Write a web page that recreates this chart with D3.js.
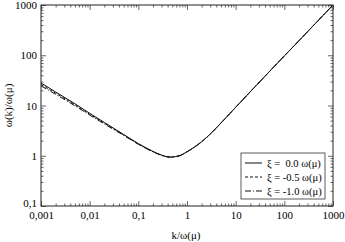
<!DOCTYPE html>
<html>
<head>
<meta charset="utf-8">
<script src="https://cdn.jsdelivr.net/npm/d3@7"></script>
<style>
  body { margin: 0; background: #fff; }
  svg text { font-family: "Liberation Serif", "DejaVu Serif", serif; fill: #000; }
</style>
</head>
<body>
<div id="chart"></div>
<script>
// values
const kValues = [0.001, 0.002, 0.005, 0.01, 0.02, 0.05, 0.1, 0.2, 0.3, 0.45, 0.7, 1, 2, 3, 5, 10, 20, 50, 100, 200, 500, 1000];
const omegaXi00 = [28, 18.6, 10.8, 7.0, 4.6, 2.65, 1.75, 1.22, 1.03, 0.94, 1.0, 1.2, 1.9, 2.7, 4.5, 9.2, 18.8, 48, 97, 195, 495, 1000];
const omegaXi05 = [26.2, 17.6, 10.3, 6.7, 4.45, 2.6, 1.72, 1.21, 1.02, 0.94, 1.0, 1.2, 1.9, 2.7, 4.5, 9.2, 18.8, 48, 97, 195, 495, 1000];
const omegaXi10 = [24.6, 16.7, 9.85, 6.45, 4.3, 2.54, 1.69, 1.2, 1.02, 0.94, 1.0, 1.2, 1.9, 2.7, 4.5, 9.2, 18.8, 48, 97, 195, 495, 1000];

const seriesNames = ["\u03be =  0.0 \u03c9(\u03bc)", "\u03be = -0.5 \u03c9(\u03bc)", "\u03be = -1.0 \u03c9(\u03bc)"];
const seriesDash = [null, "3,2", "6,2,1,2"];

const xTicks = [0.001, 0.01, 0.1, 1, 10, 100, 1000];
const xTickLabels = ["0,001", "0,01", "0,1", "1", "10", "100", "1000"];
const yTicks = [0.1, 1, 10, 100, 1000];
const yTickLabels = ["0,1", "1", "10", "100", "1000"];

const width = 345, height = 242;
const plotL = 41, plotR = 333, plotT = 5, plotB = 206;

const svg = d3.select("#chart").append("svg")
    .attr("width", width)
    .attr("height", height);

const x = d3.scaleLog().domain([0.001, 1000]).range([plotL, plotR]);
const y = d3.scaleLog().domain([0.1, 1000]).range([plotB, plotT]);

// minor ticks 2..9 within each decade
const minorOf = (dom) => {
    const out = [];
    for (let e = Math.round(Math.log10(dom[0])); e < Math.round(Math.log10(dom[1])); e++) {
        for (let m = 2; m <= 9; m++) out.push(m * Math.pow(10, e));
    }
    return out;
};
const xMinor = minorOf(x.domain());
const yMinor = minorOf(y.domain());

const tickColor = "#444";

function tickLayer(axis, tx, ty) {
    const g = svg.append("g").attr("transform", `translate(${tx},${ty})`).call(axis);
    g.select(".domain").remove();
    g.selectAll("line").attr("stroke", tickColor).attr("stroke-width", 0.8);
    return g;
}

// minor ticks, all four sides, pointing inward
tickLayer(d3.axisBottom(x).tickValues(xMinor).tickSize(-2.5).tickFormat(""), 0, plotB);
tickLayer(d3.axisTop(x).tickValues(xMinor).tickSize(-2.5).tickFormat(""), 0, plotT);
tickLayer(d3.axisLeft(y).tickValues(yMinor).tickSize(-2.5).tickFormat(""), plotL, 0);
tickLayer(d3.axisRight(y).tickValues(yMinor).tickSize(-2.5).tickFormat(""), plotR, 0);

// major ticks with labels
const xAxis = tickLayer(d3.axisBottom(x).tickValues(xTicks).tickSize(-5).tickPadding(3)
    .tickFormat((d, i) => xTickLabels[i]), 0, plotB);
xAxis.selectAll("text").attr("y", 5).attr("font-size", 11).attr("font-family", "Liberation Serif");

const yAxis = tickLayer(d3.axisLeft(y).tickValues(yTicks).tickSize(-5)
    .tickFormat((d, i) => yTickLabels[i]), plotL, 0);
yAxis.selectAll("text").attr("x", -4).attr("font-size", 11).attr("font-family", "Liberation Serif");
yAxis.selectAll(".tick").filter(d => d === 0.1).select("text").attr("dy", "0.05em");

tickLayer(d3.axisTop(x).tickValues(xTicks).tickSize(-5).tickFormat(""), 0, plotT);
tickLayer(d3.axisRight(y).tickValues(yTicks).tickSize(-5).tickFormat(""), plotR, 0);

// frame
svg.append("rect")
    .attr("x", plotL).attr("y", plotT)
    .attr("width", plotR - plotL).attr("height", plotB - plotT)
    .attr("fill", "none")
    .attr("stroke", "#222")
    .attr("stroke-width", 1);

// curves
const allSeries = [omegaXi00, omegaXi05, omegaXi10];
const line = d3.line()
    .x(d => x(d[0]))
    .y(d => y(d[1]))
    .curve(d3.curveMonotoneX);

allSeries.forEach((vals, i) => {
    svg.append("path")
        .datum(kValues.map((k, j) => [k, vals[j]]))
        .attr("d", line)
        .attr("fill", "none")
        .attr("stroke", "#111")
        .attr("stroke-width", 1)
        .attr("stroke-dasharray", seriesDash[i]);
});

// legend
const legend = svg.append("g");
legend.append("rect")
    .attr("x", 241).attr("y", 153)
    .attr("width", 84).attr("height", 46)
    .attr("fill", "#fff")
    .attr("stroke", "#333")
    .attr("stroke-width", 0.8);

seriesNames.forEach((name, i) => {
    const ly = 163 + i * 14;
    legend.append("line")
        .attr("x1", 245).attr("x2", 262)
        .attr("y1", ly).attr("y2", ly)
        .attr("stroke", "#111")
        .attr("stroke-width", 1)
        .attr("stroke-dasharray", seriesDash[i]);
    legend.append("text")
        .attr("x", 267).attr("y", ly)
        .attr("dy", "0.35em")
        .attr("font-size", 10.5)
        .style("white-space", "pre")
        .text(name);
});

// axis titles
svg.append("text")
    .attr("x", 186).attr("y", 235)
    .attr("text-anchor", "middle")
    .attr("dy", "0.35em")
    .attr("font-size", 11)
    .text("k/\u03c9(\u03bc)");

svg.append("text")
    .attr("transform", `translate(8,${(plotT + plotB) / 2}) rotate(-90)`)
    .attr("text-anchor", "middle")
    .attr("dy", "0.35em")
    .attr("font-size", 11)
    .text("\u03c9(k)/\u03c9(\u03bc)");
</script>
</body>
</html>
